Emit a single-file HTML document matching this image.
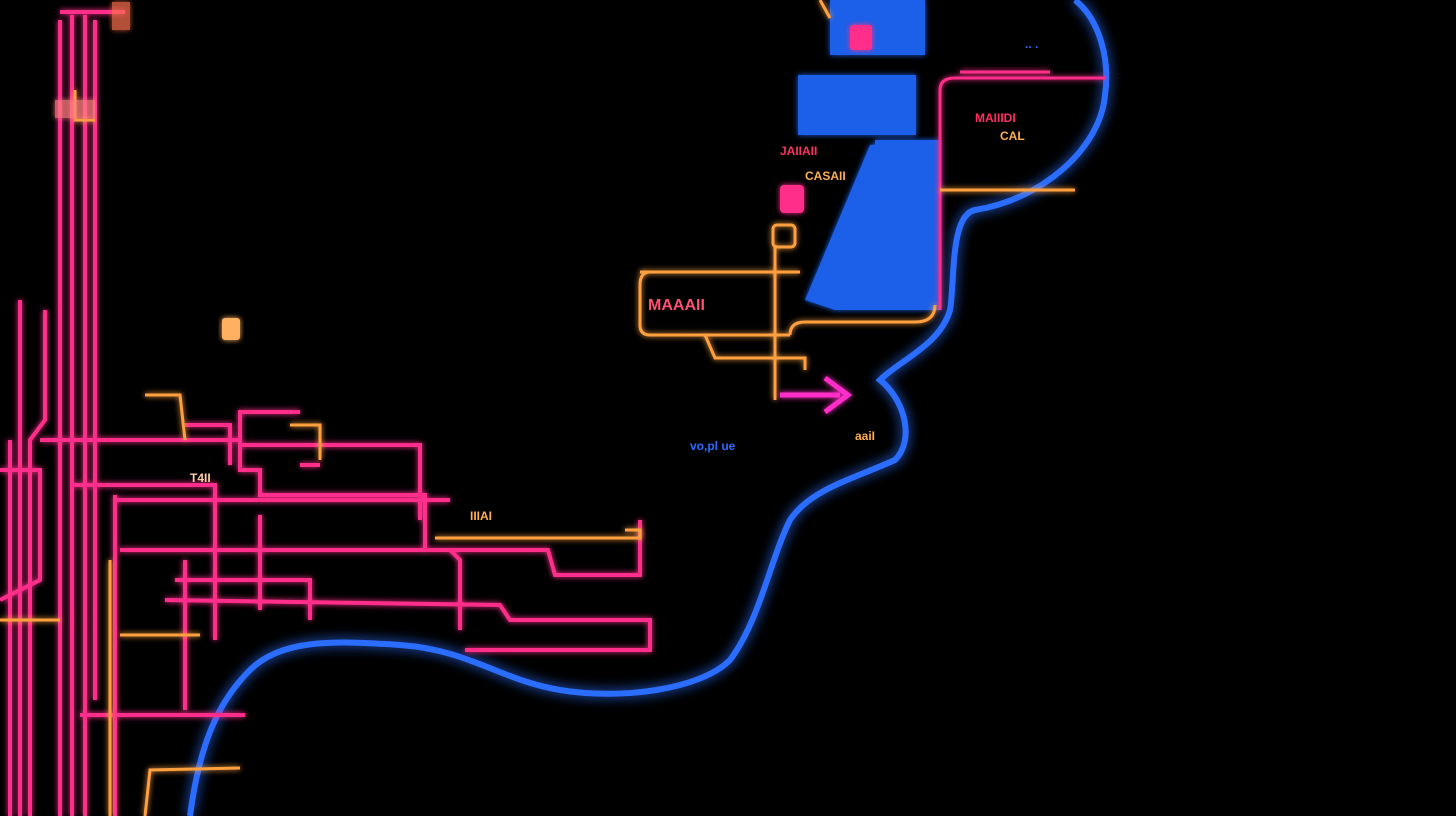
<!DOCTYPE html>
<html><head><meta charset="utf-8"><style>
html,body{margin:0;padding:0;background:#000;}
svg{display:block}
</style></head><body>
<svg width="1456" height="816" viewBox="0 0 1456 816" xmlns="http://www.w3.org/2000/svg">
<defs>
<filter id="g" x="-20%" y="-20%" width="140%" height="140%"><feGaussianBlur stdDeviation="3" result="b"/><feMerge><feMergeNode in="b"/><feMergeNode in="SourceGraphic"/></feMerge></filter>
<filter id="gb" x="-20%" y="-20%" width="140%" height="140%"><feGaussianBlur stdDeviation="6" result="b"/><feMerge><feMergeNode in="b"/><feMergeNode in="SourceGraphic"/></feMerge></filter>
</defs>
<rect width="1456" height="816" fill="#000"/>
<!-- blue face outline -->
<path d="M1075,0 C1100,20 1110,60 1105,95 C1100,150 1040,200 975,210 C950,215 955,280 950,310 C940,345 900,360 880,380 C905,400 915,440 895,460 C850,480 810,490 790,520 C770,560 760,620 730,660 C700,690 620,700 560,690 C500,680 470,650 400,645 C330,640 280,640 250,670 C220,700 200,740 190,816" fill="none" stroke="#2a6dff" stroke-width="6" filter="url(#gb)"/>
<!-- blue blocks -->
<g fill="#1f5ee8" filter="url(#g)">
<rect x="830" y="0" width="95" height="55"/>
<rect x="798" y="75" width="118" height="60"/>
<polygon points="870,145 940,140 940,310 835,310 805,300"/>
<rect x="875" y="140" width="65" height="120"/>
</g>
<g fill="none" stroke="#ff2d8a" stroke-width="3" filter="url(#g)">
<path d="M940,310 L940,90 Q940,78 955,78 L1105,78"/>
<path d="M960,72 L1050,72"/>
</g>
<g fill="none" stroke="#ffa040" stroke-width="3" filter="url(#g)">
<path d="M940,190 L1075,190"/>
<path d="M820,0 L830,18"/>
<path d="M640,272 L800,272 M650,272 Q640,272 640,285 L640,325 Q640,335 650,335 L790,335"/>
<path d="M775,245 L775,400"/>
<rect x="773" y="225" width="22" height="22" rx="4"/>
<path d="M705,335 L715,358 L805,358 L805,370"/>
<path d="M790,335 Q790,322 805,322 L915,322 Q935,322 935,305"/>
</g>
<path d="M780,395 L840,395 M825,378 L848,395 L825,412" fill="none" stroke="#ff2dc8" stroke-width="5" filter="url(#g)"/>
<rect x="780" y="185" width="24" height="28" rx="4" fill="#ff2d8a" filter="url(#g)"/>
<rect x="850" y="25" width="22" height="25" rx="3" fill="#ff2d8a" filter="url(#g)"/>
<g fill="none" stroke="#ff2d8a" stroke-width="4" filter="url(#g)">
<path d="M60,20 L60,816"/><path d="M72,15 L72,816"/><path d="M85,15 L85,816"/><path d="M95,20 L95,700"/>
<path d="M60,12 L125,12"/>
<path d="M45,310 L45,420 L30,440 L30,816"/>
<path d="M10,440 L10,816"/>
<path d="M20,300 L20,816"/>
<path d="M40,440 L240,440 L240,470 L260,470 L260,495 L425,495 L425,550 L548,550 L555,575 L640,575 L640,520"/>
<path d="M240,440 L240,412 L300,412"/>
<path d="M185,425 L230,425 L230,465"/>
<path d="M240,445 L420,445 L420,520"/>
<path d="M70,485 L215,485 L215,640"/>
<path d="M115,495 L115,816"/>
<path d="M115,500 L450,500"/>
<path d="M120,550 L450,550 L460,560 L460,630"/>
<path d="M165,600 L500,605 L510,620 L650,620 L650,650 L465,650"/>
<path d="M260,515 L260,610"/>
<path d="M175,580 L310,580 L310,620"/>
<path d="M80,715 L245,715"/>
<path d="M185,560 L185,710"/>
<path d="M0,470 L40,470 L40,580 L0,600"/>
<path d="M300,465 L320,465"/>
</g>
<g fill="none" stroke="#ffa040" stroke-width="3" filter="url(#g)">
<path d="M145,395 L180,395 L185,440"/>
<path d="M290,425 L320,425 L320,460"/>
<path d="M435,538 L640,538 L640,530 Q640,530 625,530"/>
<path d="M110,560 L110,816"/>
<path d="M145,816 L150,770 L240,768"/>
<path d="M120,635 L200,635"/>
<path d="M75,90 L75,120 L95,120"/>
<path d="M0,620 L60,620"/>
</g>
<rect x="222" y="318" width="18" height="22" rx="3" fill="#ffb060" filter="url(#g)"/>
<rect x="55" y="100" width="40" height="18" fill="#ff8080" opacity="0.7" filter="url(#g)"/>
<rect x="112" y="2" width="18" height="28" fill="#ff7050" opacity="0.7" filter="url(#g)"/>
<g font-family="Liberation Sans, sans-serif" font-size="12" font-weight="bold">
<text x="975" y="122" fill="#ff3060">MAIIIDI</text>
<text x="1000" y="140" fill="#ffb050">CAL</text>
<text x="780" y="155" fill="#ff3060">JAIIAII</text>
<text x="805" y="180" fill="#ffb050">CASAII</text>
<text x="648" y="310" fill="#ff5070" font-size="16">MAAAII</text>
<text x="690" y="450" fill="#2a6dff">vo,pl ue</text>
<text x="470" y="520" fill="#ffb050">IIIAI</text>
<text x="855" y="440" fill="#ffb050">aaiI</text>
<text x="190" y="482" fill="#ffd0a0">T4II</text>
<text x="1025" y="48" fill="#2a6dff">.. .</text>
</g>
</svg>
</body></html>
